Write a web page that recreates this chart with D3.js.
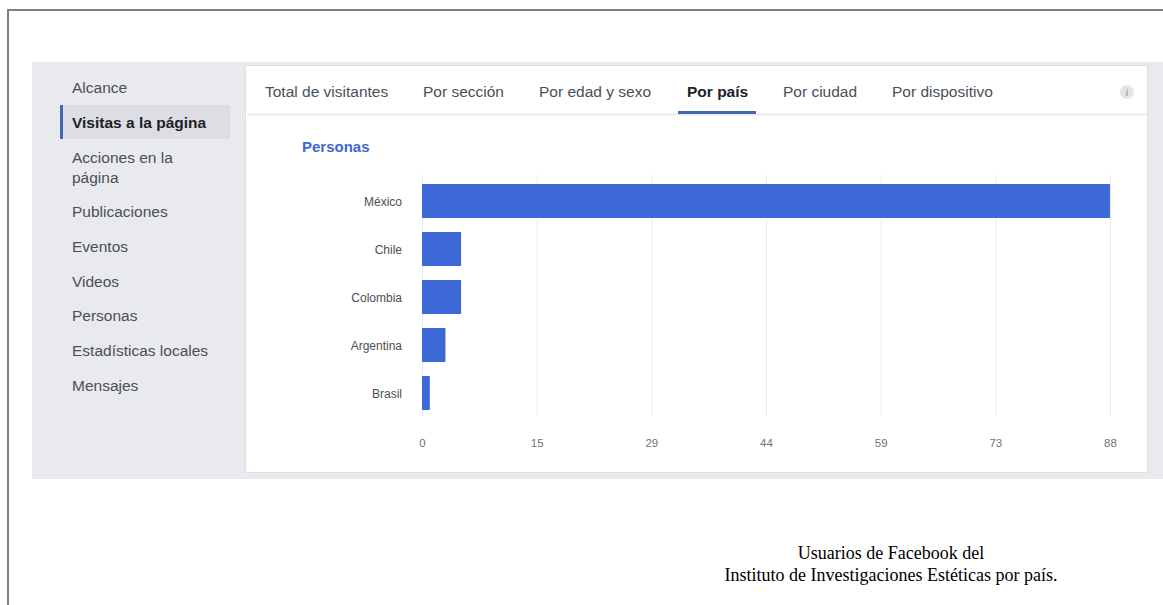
<!DOCTYPE html>
<html>
<head>
<meta charset="utf-8">
<script src="https://cdn.jsdelivr.net/npm/d3@7"></script>
<style>
  html, body { margin: 0; padding: 0; background: #ffffff; }
  svg { display: block; }
</style>
</head>
<body>
<svg id="chart" width="1163" height="605"></svg>
<script>
// ---- data ----
const countries = ["México", "Chile", "Colombia", "Argentina", "Brasil"];
const personas = [88, 5, 5, 3, 1];
const tickValues = [0, 14.67, 29.33, 44, 58.67, 73.33, 88];
const tickLabels = ["0", "15", "29", "44", "59", "73", "88"];
const sideItems = ["Alcance", "Visitas a la página", "Acciones en la|página", "Publicaciones", "Eventos", "Videos", "Personas", "Estadísticas locales", "Mensajes"];
const sideActive = "Visitas a la página";
const tabs = ["Total de visitantes", "Por sección", "Por edad y sexo", "Por país", "Por ciudad", "Por dispositivo"];
const tabActive = "Por país";
const chartTitle = "Personas";
const caption = ["Usuarios de Facebook del", "Instituto de Investigaciones Estéticas por país."];

// ---- drawing ----
const svg = d3.select("#chart");
const sans = "'Liberation Sans', Arial, Helvetica, sans-serif";

// outer page frame
svg.append("line").attr("x1", 8).attr("x2", 8).attr("y1", 9).attr("y2", 605)
  .attr("stroke", "#7f7f7f").attr("stroke-width", 2);
svg.append("line").attr("x1", 7).attr("x2", 1163).attr("y1", 10).attr("y2", 10)
  .attr("stroke", "#7f7f7f").attr("stroke-width", 2);

// gray panel
svg.append("rect").attr("x", 32).attr("y", 62).attr("width", 1131).attr("height", 417).attr("fill", "#e9eaed");

// white card
svg.append("rect").attr("x", 245.5).attr("y", 65.5).attr("width", 902).attr("height", 407)
  .attr("fill", "#ffffff").attr("stroke", "#dddfe2").attr("stroke-width", 1);

// sidebar
const sideY = [88, 123, 158, 212, 247, 282, 316, 351, 386];
const side = svg.append("g");
side.append("rect").attr("x", 60).attr("y", 105).attr("width", 170).attr("height", 34).attr("fill", "#dcdee3");
side.append("rect").attr("x", 60).attr("y", 105).attr("width", 3).attr("height", 34).attr("fill", "#4267b2");
sideItems.forEach((item, i) => {
  const lines = item.split("|");
  const t = side.append("text")
    .attr("x", 72).attr("y", sideY[i])
    .attr("font-family", sans).attr("font-size", 15.5)
    .attr("fill", item === sideActive ? "#1d2129" : "#4b4f56")
    .attr("font-weight", item === sideActive ? "bold" : "normal");
  lines.forEach((ln, j) => {
    t.append("tspan").attr("x", 72).attr("dy", j === 0 ? "0.35em" : "20px").text(ln);
  });
});

// tabs
const tabX = [265, 423, 539, 687, 783, 892];
const tabG = svg.append("g");
tabG.append("line").attr("x1", 247).attr("x2", 1146).attr("y1", 114.5).attr("y2", 114.5)
  .attr("stroke", "#e9eaed").attr("stroke-width", 2);
tabs.forEach((t, i) => {
  tabG.append("text")
    .attr("x", tabX[i]).attr("y", 92).attr("dy", "0.35em")
    .attr("font-family", sans).attr("font-size", 15.5)
    .attr("fill", t === tabActive ? "#1d2129" : "#4b4f56")
    .attr("font-weight", t === tabActive ? "bold" : "normal")
    .text(t);
  if (t === tabActive) {
    tabG.append("rect").attr("x", tabX[i] - 9).attr("y", 111).attr("width", 78).attr("height", 3).attr("fill", "#4267b2");
  }
});

// info icon
svg.append("circle").attr("cx", 1127).attr("cy", 92).attr("r", 7).attr("fill", "#e4e5e8");
svg.append("text").attr("x", 1127).attr("y", 92).attr("dy", "0.35em").attr("text-anchor", "middle")
  .attr("font-family", "'Liberation Serif', serif").attr("font-style", "italic").attr("font-size", 10)
  .attr("fill", "#7a7d84").text("i");

// chart title
svg.append("text").attr("x", 302).attr("y", 147).attr("dy", "0.35em")
  .attr("font-family", sans).attr("font-size", 15).attr("font-weight", "bold")
  .attr("fill", "#4267d0").text(chartTitle);

// scales
const x = d3.scaleLinear().domain([0, 88]).range([422, 1110]);
const y = d3.scaleBand().domain(countries).range([177, 417])
  .paddingInner(14 / 48).paddingOuter(7 / 48);

// gridlines
const grid = svg.append("g").attr("transform", "translate(0,416)")
  .call(d3.axisBottom(x).tickValues(tickValues).tickSize(-241).tickFormat(""));
grid.select(".domain").remove();
grid.selectAll(".tick line").attr("stroke", "#ebecef").attr("stroke-width", 1);

// x axis labels
const xAxis = svg.append("g").attr("transform", "translate(0,439)")
  .call(d3.axisBottom(x).tickValues(tickValues).tickSize(0).tickPadding(0)
    .tickFormat((d, i) => tickLabels[i]));
xAxis.select(".domain").remove();
xAxis.selectAll("text").attr("font-family", sans).attr("font-size", 11.5).attr("fill", "#6f737a");

// bars
svg.append("g").selectAll("rect").data(countries).join("rect")
  .attr("x", x(0))
  .attr("y", d => y(d))
  .attr("width", (d, i) => x(personas[i]) - x(0))
  .attr("height", y.bandwidth())
  .attr("fill", "#3d69d6");

// y labels
const yAxis = svg.append("g").attr("transform", "translate(402,1)")
  .call(d3.axisLeft(y).tickSize(0).tickPadding(0));
yAxis.select(".domain").remove();
yAxis.selectAll("text").attr("font-family", sans).attr("font-size", 12).attr("fill", "#4b4f56");

// caption
const cap = svg.append("g");
caption.forEach((c, i) => {
  cap.append("text").attr("x", 891).attr("y", 553 + i * 22).attr("dy", "0.35em")
    .attr("text-anchor", "middle")
    .attr("font-family", "'Liberation Serif', 'Times New Roman', serif").attr("font-size", 18)
    .attr("fill", "#000").text(c);
});
</script>
</body>
</html>
